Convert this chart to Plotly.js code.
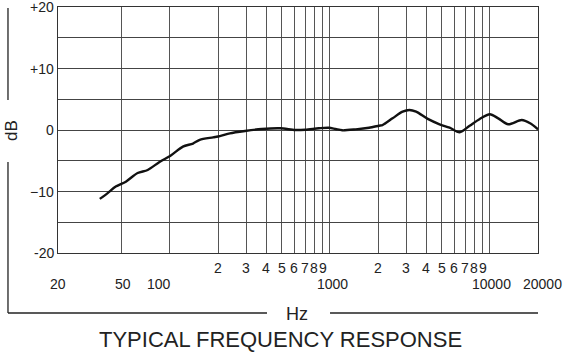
<!DOCTYPE html>
<html>
<head>
<meta charset="utf-8">
<script src="https://cdn.plot.ly/plotly-3.0.1.min.js"></script>
<style>
html,body{margin:0;padding:0;background:#fff;}
#chart{width:568px;height:360px;}
</style>
</head>
<body>
<div id="chart"></div>
<script>
// Frequency response data (Hz, dB)
var freqHz = [36.5, 40.7, 45.9, 53.1, 62.9, 72.7, 86.2, 101.9, 120.7, 139.6, 153.7, 186.4, 205.4, 237.4,
  295, 375, 489.5, 608, 703, 853, 986, 1086, 1195, 1452, 1759, 2032, 2133, 2466, 2851, 3141, 3460,
  4093, 4850, 5602, 6475, 7484, 8650, 10000, 11279, 13036, 15820, 17850, 20000];
var levelDb = [-11.2, -10.3, -9.2, -8.4, -7.0, -6.5, -5.2, -4.1, -2.7, -2.2, -1.6, -1.2, -1.0, -0.54,
  -0.16, 0.16, 0.28, 0.0, 0.05, 0.28, 0.37, 0.16, -0.05, 0.11, 0.37, 0.7, 0.8, 1.9, 2.98, 3.25, 2.98,
  1.8, 0.93, 0.37, -0.37, 0.7, 1.8, 2.55, 1.9, 0.93, 1.63, 1.1, 0.1];

// Grid positions on the frequency axis
var xGridVals = [50, 100, 200, 300, 400, 500, 600, 700, 800, 900, 1000,
  2000, 3000, 4000, 5000, 6000, 7000, 8000, 9000, 10000];

// Frequency labels: upper row (digits) and lower row (decades)
var upperLabelVals = [200, 300, 400, 500, 600, 700, 800, 900, 2000, 3000, 4000, 5000, 6000, 7000, 8000, 9000];
var upperLabelText = ['2', '3', '4', '5', '6', '7', '8', '9', '2', '3', '4', '5', '6', '7', '8', '9'];
var lowerLabelVals = [20, 50, 100, 1000, 10000, 20000];
var lowerLabelText = ['20', '50', '100', '1000', '10000', '20000'];

// dB axis
var yGridVals = [-20, -15, -10, -5, 0, 5, 10, 15, 20];
var yLabelVals = [-20, -10, 0, 10, 20];
var yLabelText = ['-20', '\u221210', '0', '+10', '+20'];

var titleText = 'TYPICAL FREQUENCY RESPONSE';
var xUnitText = 'Hz';
var yUnitText = 'dB';

var FONT = 'Liberation Sans, Arial, sans-serif';
var lowerShift = {'20': 0, '50': 1, '100': -11, '1000': 3, '10000': 2, '20000': 4};

var annotations = [];
upperLabelVals.forEach(function (v, i) {
  annotations.push({x: Math.log10(v), xref: 'x', y: 0, yref: 'paper', yshift: -15,
    text: upperLabelText[i], showarrow: false, xanchor: 'center', yanchor: 'middle',
    font: {family: FONT, size: 14, color: '#222'}});
});
lowerLabelVals.forEach(function (v, i) {
  annotations.push({x: Math.log10(v), xref: 'x', y: 0, yref: 'paper', yshift: -31,
    xshift: lowerShift[lowerLabelText[i]] || 0,
    text: lowerLabelText[i], showarrow: false, xanchor: 'center', yanchor: 'middle',
    font: {family: FONT, size: 14, color: '#222'}});
});
yLabelVals.forEach(function (v, i) {
  annotations.push({x: 0, xref: 'paper', y: v, yref: 'y', xshift: -2,
    text: yLabelText[i], showarrow: false, xanchor: 'right', yanchor: 'middle',
    font: {family: FONT, size: 14, color: '#222'}});
});
annotations.push({x: 0.498, xref: 'paper', y: -0.2439, yref: 'paper', yshift: -1, text: xUnitText,
  showarrow: false, xanchor: 'center', yanchor: 'middle', font: {family: FONT, size: 18, color: '#222'}});
annotations.push({x: -0.098, xref: 'paper', y: 0.5, yref: 'paper', text: yUnitText, textangle: -90,
  showarrow: false, xanchor: 'center', yanchor: 'middle', font: {family: FONT, size: 17, color: '#222'}});
annotations.push({x: 0.4625, xref: 'paper', y: -0.3374, yref: 'paper', yshift: -3, text: titleText,
  showarrow: false, xanchor: 'center', yanchor: 'middle', font: {family: FONT, size: 22, color: '#222'}});

var lineStyle = {color: '#222', width: 1.3};
var shapes = [
  {type: 'line', xref: 'paper', yref: 'paper', x0: -0.1042, x1: -0.1042, y0: 0.9959, y1: 0.622, line: lineStyle},
  {type: 'line', xref: 'paper', yref: 'paper', x0: -0.1042, x1: -0.1042, y0: 0.37, y1: -0.2439, line: lineStyle},
  {type: 'line', xref: 'paper', yref: 'paper', x0: -0.1042, x1: 0.4354, y0: -0.2439, y1: -0.2439, line: lineStyle},
  {type: 'line', xref: 'paper', yref: 'paper', x0: 0.5667, x1: 1.0, y0: -0.2439, y1: -0.2439, line: lineStyle}
];

var trace = {
  x: freqHz, y: levelDb, type: 'scatter', mode: 'lines',
  line: {color: '#111', width: 2.4, shape: 'spline', smoothing: 0.8},
  hoverinfo: 'skip'
};

var layout = {
  width: 568, height: 360,
  margin: {l: 58, r: 30, t: 7, b: 107},
  paper_bgcolor: '#fff', plot_bgcolor: '#fff',
  showlegend: false,
  xaxis: {
    type: 'log', range: [Math.log10(20), Math.log10(20000)],
    tickvals: xGridVals, showticklabels: false, ticks: '',
    showgrid: true, gridcolor: '#555', gridwidth: 1,
    showline: true, mirror: true, linecolor: '#333', linewidth: 1.2,
    zeroline: false, fixedrange: true
  },
  yaxis: {
    range: [-20, 20], tickvals: yGridVals, showticklabels: false, ticks: '',
    showgrid: true, gridcolor: '#444', gridwidth: 1,
    showline: true, mirror: true, linecolor: '#333', linewidth: 1.2,
    zeroline: false, fixedrange: true
  },
  annotations: annotations,
  shapes: shapes
};

Plotly.newPlot('chart', [trace], layout, {displayModeBar: false, staticPlot: true});
</script>
</body>
</html>
